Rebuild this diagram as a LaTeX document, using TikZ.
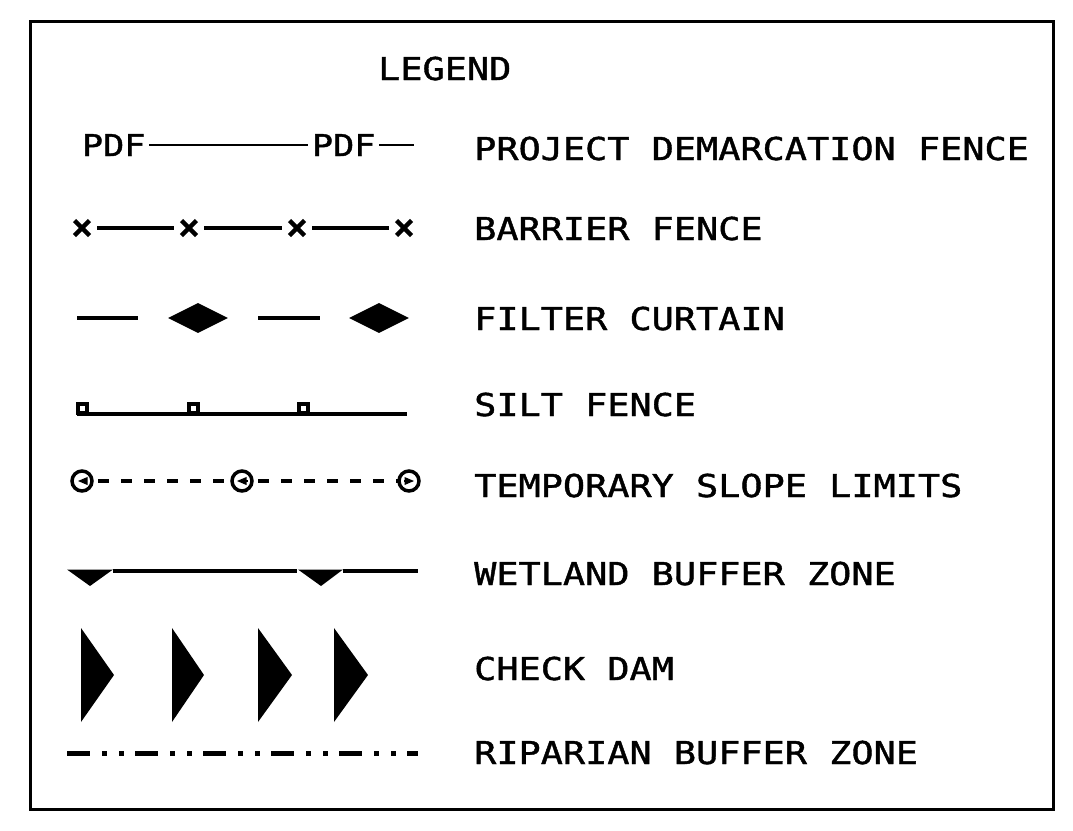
\documentclass[tikz,border=0pt]{standalone}
\usepackage{fontspec}
\newfontfamily\cadfont{DejaVu Sans Mono}[FakeStretch=1.17,FakeBold=1.3]
\usetikzlibrary{arrows,shapes.geometric,shapes.misc}

\tikzset{
	legtext/.style={anchor=base west,inner sep=0pt,font=\cadfont\fontsize{31.5}{34}\selectfont},
	pdftag/.style={anchor=base west,inner sep=4pt,outer sep=0pt,font=\cadfont\fontsize{30}{32}\selectfont},
	xmark/.style={cross out,draw,line width=4.5pt,minimum size=15pt,inner sep=0pt,outer sep=0pt},
	slope/.style={circle,draw,line width=3.5pt,minimum size=20pt,inner sep=0pt,outer sep=0pt},
	curtain/.style={diamond,fill,minimum width=60pt,minimum height=30pt,inner sep=0pt},
	post/.style={rectangle,draw,line width=4pt,minimum size=9pt,inner sep=0pt,outer sep=0pt,anchor=south},
	fenceline/.style={line width=4pt,shorten <=7.5pt,shorten >=7.5pt},
	dashline/.style={line width=3.5pt,dash pattern=on 11pt off 12pt,dash phase=17pt},
	riparian/.style={line width=5pt,dash pattern=on 23pt off 12pt on 5pt off 12pt on 5pt off 11pt}
}

\begin{document}
\begin{tikzpicture}[x=1pt,y=-1pt]
	\useasboundingbox (0,0) rectangle (1073,830);
	\draw[line width=3pt] (30,21) rectangle (1053,809);

	\node[legtext] (title) at (378,80) {LEGEND};

	% project demarcation fence
	\node[pdftag] (PDFa) at (78,156) {PDF};
	\node[pdftag] (PDFb) at (308,156) {PDF};
	\path (PDFb.east) ++(35,0) coordinate (PDFend);
	\draw[line width=2.5pt] (PDFa) -- (PDFb);
	\draw[line width=2.5pt] (PDFb) -- (PDFend);
	\node[legtext] (pdf) at (474,160) {PROJECT DEMARCATION FENCE};

	% barrier fence
	\node[xmark] (Xa) at (82,228) {};
	\node[xmark] (Xb) at (189,228) {};
	\node[xmark] (Xc) at (297,228) {};
	\node[xmark] (Xd) at (404,228) {};
	\path[fenceline] (Xa) edge (Xb);
	\path[fenceline] (Xb) edge (Xc);
	\path[fenceline] (Xc) edge (Xd);
	\node[legtext] (barrier) at (474,240) {BARRIER FENCE};

	% filter curtain
	\coordinate (Fa1) at (77,318);
	\coordinate (Fa2) at (138,318);
	\node[curtain] (Da) at (198,318) {};
	\coordinate (Fb1) at (258,318);
	\coordinate (Fb2) at (320,318);
	\node[curtain] (Db) at (379,318) {};
	\draw[line width=3.5pt] (Fa1) -- (Fa2);
	\draw[line width=3.5pt] (Fb1) -- (Fb2);
	\node[legtext] (filter) at (474,330) {FILTER CURTAIN};

	% silt fence
	\coordinate (Sa) at (77,414);
	\coordinate (Sb) at (407,414);
	\draw[line width=4.5pt] (Sa) -- (Sb);
	\node[post] (Pa) at (82,413) {};
	\node[post] (Pb) at (193,413) {};
	\node[post] (Pc) at (303,413) {};
	\node[legtext] (silt) at (474,416) {SILT FENCE};

	% temporary slope limits
	\node[slope] (Ta) at (82,481) {};
	\node[slope] (Tb) at (242,481) {};
	\node[slope] (Tc) at (409,481) {};
	\draw[dashline] (Ta) -- (Tb);
	\draw[dashline] (Tb) -- (Tc);
	\draw[-triangle 45,line width=1.2pt] ([xshift=3pt]Ta.center) -- ([xshift=-4pt]Ta.center);
	\draw[-triangle 45,line width=1.2pt] ([xshift=6pt]Tb.center) -- ([xshift=-5pt]Tb.center);
	\draw[-triangle 45,line width=1.2pt] ([xshift=-5pt]Tc.center) -- ([xshift=5pt]Tc.center);
	\node[legtext] (slope) at (474,497) {TEMPORARY SLOPE LIMITS};

	% wetland buffer zone
	\coordinate (Wa) at (113,571);
	\coordinate (Wb) at (297,571);
	\coordinate (Wc) at (343,571);
	\coordinate (Wd) at (418,571);
	\draw[line width=3.5pt] (Wa) -- (Wb);
	\draw[line width=3.5pt] (Wc) -- (Wd);
	\fill (67,569.5) -- (113,569.5) -- (90,586) -- cycle;
	\fill (298,569.5) -- (343,569.5) -- (321,586) -- cycle;
	\node[legtext] (wetland) at (474,585) {WETLAND BUFFER ZONE};

	% check dam
	\fill (81,628) -- (114,675) -- (81,722) -- cycle;
	\fill (172,628) -- (204,675) -- (172,722) -- cycle;
	\fill (258,628) -- (292,675) -- (258,722) -- cycle;
	\fill (334,628) -- (368,675) -- (334,722) -- cycle;
	\node[legtext] (dam) at (474,680) {CHECK DAM};

	% riparian buffer zone
	\coordinate (Ra) at (67,753);
	\coordinate (Rb) at (418,753);
	\draw[riparian] (Ra) -- (Rb);
	\node[legtext] (riparian) at (474,764) {RIPARIAN BUFFER ZONE};
\end{tikzpicture}
\end{document}
